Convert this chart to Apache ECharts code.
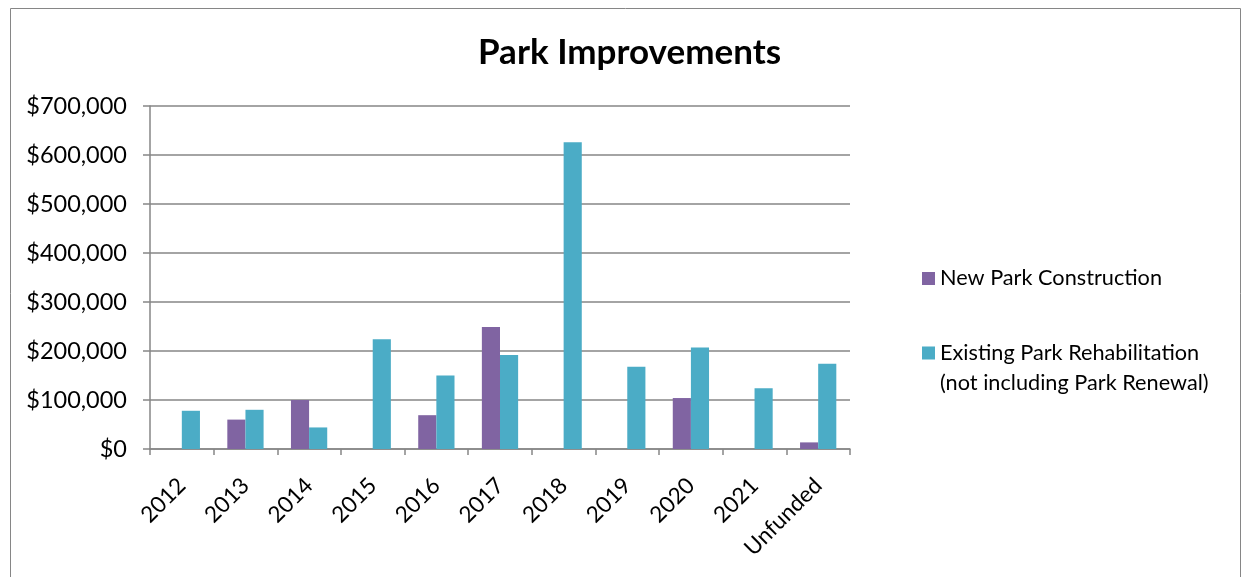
<!DOCTYPE html>
<html><head><meta charset="utf-8">
<script src="https://cdn.jsdelivr.net/npm/echarts@6/dist/echarts.min.js"></script>
<style>html,body{margin:0;padding:0;background:#fff}#c{width:1244px;height:577px}</style>
</head><body><div id="c"></div>
<script>
const categories = ['2012','2013','2014','2015','2016','2017','2018','2019','2020','2021','Unfunded'];
const newPark = [null, 60000, 100000, null, 69000, 249000, null, null, 104000, null, 13500];
const existingPark = [78000, 80000, 44000, 224000, 150000, 192000, 626000, 168000, 207000, 124000, 174000];
const yTicks = [0, 100000, 200000, 300000, 400000, 500000, 600000, 700000];
const seriesNames = ['New Park Construction', 'Existing Park Rehabilitation\n(not including Park Renewal)'];

const font = 'Lato';
const gray = '#868686';
const chart = echarts.init(document.getElementById('c'), null, {renderer: 'canvas'});
chart.setOption({
  animation: false,
  backgroundColor: '#fff',
  graphic: [{type: 'rect', left: 8, top: 6, shape: {width: 1230, height: 600}, style: {fill: 'none', stroke: gray, lineWidth: 1}, silent: true}],
  title: {text: 'Park Improvements', left: 473, top: 30,
    textStyle: {fontFamily: font, fontWeight: 'bold', fontSize: 35, color: '#000'}},
  grid: {left: 150, right: 394, top: 106, bottom: 128},
  legend: {
    orient: 'vertical', left: 917, top: 252, itemGap: 38, itemWidth: 13, itemHeight: 43,
    textStyle: {fontFamily: font, fontSize: 21.7, color: '#000', lineHeight: 30},
    data: [
      {name: seriesNames[0], icon: 'path://M0,15H13V28H0Z M0,0L0.01,0L0,0.01Z M0,43L0.01,43L0,42.99Z'},
      {name: seriesNames[1], icon: 'path://M0,0H13V13H0Z M0,43L0.01,43L0,42.99Z'}
    ]
  },
  xAxis: {
    type: 'category', data: categories,
    axisLine: {lineStyle: {color: gray, width: 1.5}},
    axisTick: {show: true, length: 6, lineStyle: {color: gray, width: 1.5}},
    axisLabel: {rotate: 45, fontFamily: font, fontSize: 22.5, color: '#000', margin: 33, interval: 0}
  },
  yAxis: {
    type: 'value', min: yTicks[0], max: yTicks[yTicks.length - 1], interval: 100000,
    axisLine: {show: true, lineStyle: {color: gray, width: 1.5}},
    axisTick: {show: true, length: 7, lineStyle: {color: gray, width: 1.5}},
    splitLine: {lineStyle: {color: gray, width: 1.5}},
    axisLabel: {fontFamily: font, fontSize: 23.5, color: '#000', margin: 23,
      formatter: v => '$' + v.toLocaleString('en-US')}
  },
  series: [
    {name: seriesNames[0], type: 'bar', data: newPark, barGap: '0%', barCategoryGap: '43%',
      itemStyle: {color: '#8064A2'}},
    {name: seriesNames[1], type: 'bar', data: existingPark, barGap: '0%', barCategoryGap: '43%',
      itemStyle: {color: '#4BACC6'}}
  ]
});
</script></body></html>
